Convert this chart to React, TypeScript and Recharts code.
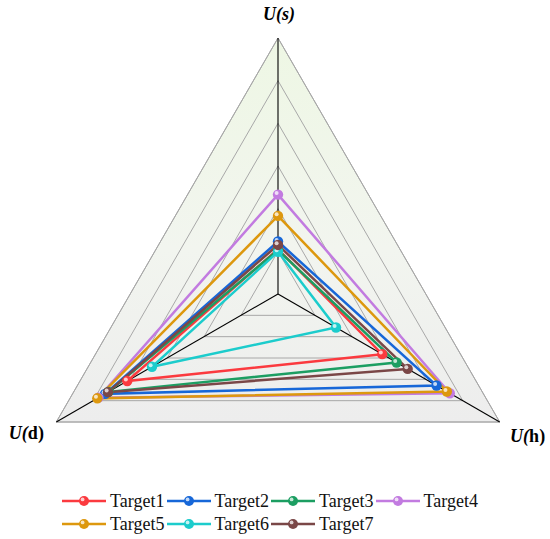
import React from "react";
import {
  RadarChart,
  Radar,
  PolarGrid,
  PolarAngleAxis,
  PolarRadiusAxis,
  Legend,
} from "recharts";

// axes, clockwise from the top
const axes = ["U(s)", "U(h)", "U(d)"];

const target1 = [1.05, 2.82, 4.08];
const target2 = [1.23, 4.29, 4.68];
const target3 = [1.03, 3.21, 4.59];
const target4 = [2.33, 4.65, 4.86];
const target5 = [1.83, 4.57, 4.89];
const target6 = [0.99, 1.57, 3.41];
const target7 = [1.15, 3.51, 4.6];

const SCALE_MAX = 6;

const series = [
  { name: "Target1", values: target1, color: "#fb3a3f" },
  { name: "Target2", values: target2, color: "#1767d8" },
  { name: "Target3", values: target3, color: "#1c9e62" },
  { name: "Target4", values: target4, color: "#c27be0" },
  { name: "Target5", values: target5, color: "#dd980e" },
  { name: "Target6", values: target6, color: "#1ccccc" },
  { name: "Target7", values: target7, color: "#7a4747" },
];

const data = axes.map((axis, i) => {
  const row: Record<string, number | string> = { axis };
  series.forEach((s) => {
    row[s.name] = s.values[i];
  });
  return row;
});

const serif = "'Liberation Serif', 'Times New Roman', serif";

// label offsets from the tick anchor
const labelOffset: Record<string, [number, number]> = {
  "U(s)": [1, -10],
  "U(h)": [21, 16],
  "U(d)": [-23, 13],
};

function AxisLabel(props: any) {
  const { x, y, payload } = props;
  const v: string = payload.value;
  const [dx, dy] = labelOffset[v] || [0, 0];
  const letter = v.slice(2, 3);
  const top = v === "U(s)";
  return (
    <text
      x={x + dx}
      y={y + dy}
      textAnchor="middle"
      fontFamily={serif}
      fontWeight="bold"
      fontSize={18}
      fill="#000"
    >
      <tspan fontStyle="italic">U(</tspan>
      <tspan fontStyle={top ? "italic" : "normal"}>{letter})</tspan>
    </text>
  );
}

function Ball(props: any) {
  const { cx, cy, stroke } = props;
  if (cx == null || cy == null) return null;
  return (
    <g>
      <circle cx={cx} cy={cy} r={5.2} fill={stroke} />
      <circle cx={cx - 1.4} cy={cy - 1.6} r={2} fill="#fff" opacity={0.75} />
    </g>
  );
}

function LegendContent() {
  return (
    <div
      style={{
        display: "flex",
        flexWrap: "wrap",
        width: 420,
        marginLeft: 62,
        fontFamily: serif,
        fontSize: 18,
        color: "#111",
        lineHeight: "22.5px",
      }}
    >
      {series.map((s) => (
        <div key={s.name} style={{ display: "flex", alignItems: "center", width: 104.5 }}>
          <svg width={44} height={14} style={{ marginRight: 4 }}>
            <line x1={0} y1={7} x2={44} y2={7} stroke={s.color} strokeWidth={2.5} />
            <circle cx={22} cy={7} r={5} fill={s.color} />
            <circle cx={20.6} cy={5.4} r={1.9} fill="#fff" opacity={0.75} />
          </svg>
          <span style={{ fontFamily: serif }}>{s.name}</span>
        </div>
      ))}
    </div>
  );
}

export default function App() {
  return (
    <div style={{ position: "absolute", left: 0, top: 0, width: 550, height: 539, background: "#fff" }}>
      <RadarChart
        width={550}
        height={539}
        data={data}
        cx={278}
        cy={294}
        outerRadius={256}
        margin={{ top: 0, right: 0, bottom: 0, left: 0 }}
      >
        <defs>
          <linearGradient id="bgFill" gradientUnits="userSpaceOnUse" x1="0" y1="38" x2="0" y2="422">
            <stop offset="0%" stopColor="#eef7e4" />
            <stop offset="55%" stopColor="#f2f5ef" />
            <stop offset="100%" stopColor="#ededed" />
          </linearGradient>
        </defs>
        <PolarGrid
          gridType="polygon"
          radialLines={false}
          stroke="#a8a8a8"
          strokeWidth={1}
          fill="url(#bgFill)"
          fillOpacity={1}
        />
        <PolarGrid gridType="polygon" radialLines polarRadius={[0]} stroke="#000" strokeWidth={1.1} />
        <PolarAngleAxis dataKey="axis" tick={<AxisLabel />} tickLine={false} axisLine={false} />
        <PolarRadiusAxis angle={90} domain={[0, SCALE_MAX]} tickCount={7} tick={false} axisLine={false} />
        {series.map((s) => (
          <Radar
            key={s.name}
            name={s.name}
            dataKey={s.name}
            stroke={s.color}
            strokeWidth={2.5}
            fill="none"
            fillOpacity={0}
            dot={<Ball />}
            isAnimationActive={false}
          />
        ))}
        <Legend
          content={<LegendContent />}
          wrapperStyle={{ position: "absolute", left: 0, top: 490, width: 550 }}
        />
      </RadarChart>
    </div>
  );
}
